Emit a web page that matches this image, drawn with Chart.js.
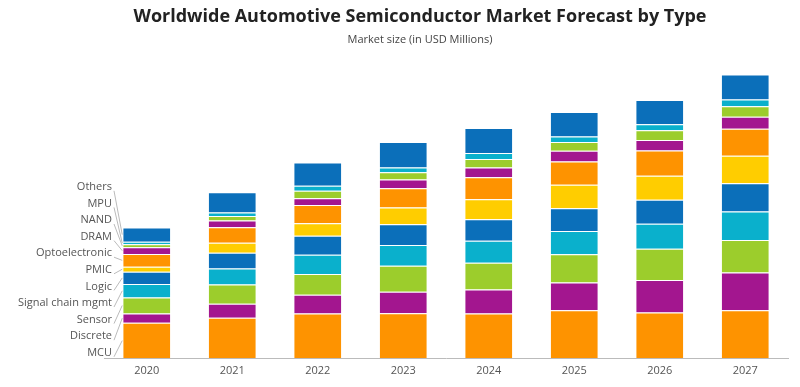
<!DOCTYPE html>
<html>
<head>
<meta charset="utf-8">
<script src="https://cdn.jsdelivr.net/npm/chart.js@4.4.1/dist/chart.umd.min.js"></script>
<style>
  body { margin: 0; background: #fff; font-family: "Open Sans", sans-serif; }
  .wrap { position: relative; width: 800px; height: 387px; }
  .title { position: absolute; left: 0; width: 840px; top: 3px; text-align: center;
           font-size: 18px; font-weight: 700; color: #222; }
  .subtitle { position: absolute; left: 0; width: 840px; top: 31px; text-align: center;
              font-size: 11px; color: #444; }
  canvas { position: absolute; left: 0; top: 0; }
</style>
</head>
<body>
<div class="wrap">
  <canvas id="chart" width="800" height="387"></canvas>
  <div class="title">Worldwide Automotive Semiconductor Market Forecast by Type</div>
  <div class="subtitle">Market size (in USD Millions)</div>
</div>
<script>
const years = ['2020', '2021', '2022', '2023', '2024', '2025', '2026', '2027'];

// values in USD millions (bottom to top)
const mcu         = [10600, 12100, 13400, 13500, 13400, 14400, 13700, 14400];
const discrete    = [2800, 4200, 5600, 6400, 7200, 8300, 9750, 11300];
const sensor      = [4800, 5800, 6200, 7800, 8000, 8400, 9300, 9700];
const signalChain = [4000, 4800, 5800, 6200, 6600, 7000, 7500, 8500];
const logic       = [3700, 4700, 5700, 6200, 6400, 6800, 7200, 8500];
const pmic        = [1500, 3000, 3700, 5000, 6000, 7000, 7200, 8200];
const opto        = [3800, 4600, 5500, 5800, 6600, 7000, 7500, 8100];
const dram        = [2000, 2000, 2000, 2600, 2900, 3200, 3200, 3600];
const nand        = [900, 1400, 2200, 2200, 2500, 2600, 2900, 3100];
const mpu         = [750, 1000, 1500, 1400, 1800, 1700, 1800, 2000];
const others      = [4300, 6100, 7000, 7600, 7500, 7300, 7200, 7500];

const seriesNames = ['MCU', 'Discrete', 'Sensor', 'Signal chain mgmt', 'Logic', 'PMIC',
  'Optoelectronic', 'DRAM', 'NAND', 'MPU', 'Others'];
const seriesData = [mcu, discrete, sensor, signalChain, logic, pmic, opto, dram, nand, mpu, others];
const colors = ['#fe9300', '#a3168f', '#9ccd2c', '#0ab0cc', '#0b6fba', '#ffcd00',
  '#fe9300', '#a3168f', '#9ccd2c', '#0ab0cc', '#0b6fba'];

// series names on the left, with leader lines to the first bar
const sideLabels = {
  id: 'sideLabels',
  afterDatasetsDraw(chart) {
    const ctx = chart.ctx;
    const area = chart.chartArea;
    const step = 16.6;
    ctx.save();
    ctx.font = '11px "Open Sans"';
    ctx.textAlign = 'right';
    ctx.textBaseline = 'middle';
    seriesNames.forEach((name, i) => {
      const y = area.bottom - 5.5 - i * step;
      const x = area.left + 8;
      ctx.fillStyle = '#555';
      ctx.fillText(name, x, y);
      const bar = chart.getDatasetMeta(i).data[0];
      const segMid = (bar.y + bar.base) / 2;
      const barLeft = bar.x - bar.width / 2;
      ctx.strokeStyle = '#bbb';
      ctx.lineWidth = 1;
      ctx.beginPath();
      ctx.moveTo(x + 2, y + 4);
      ctx.lineTo(barLeft - 1, segMid);
      ctx.stroke();
    });
    ctx.restore();
  }
};

new Chart(document.getElementById('chart'), {
  type: 'bar',
  data: {
    labels: years,
    datasets: seriesNames.map((name, i) => ({
      label: name,
      data: seriesData[i],
      backgroundColor: colors[i],
      borderColor: 'rgba(255,255,255,0.7)',
      borderWidth: { top: 1, bottom: 0, left: 0, right: 0 },
      borderSkipped: false,
      categoryPercentage: 1,
      barPercentage: 0.55
    }))
  },
  options: {
    responsive: false,
    animation: false,
    layout: { padding: { left: 104, right: 12, top: 57.5, bottom: 3.5 } },
    plugins: {
      legend: { display: false },
      title: { display: false },
      tooltip: { enabled: false }
    },
    scales: {
      x: {
        stacked: true,
        grid: { display: false, drawTicks: false },
        border: { display: true, color: '#bbb' },
        ticks: { color: '#555', font: { family: 'Open Sans', size: 11 }, padding: 6 }
      },
      y: {
        stacked: true,
        display: false,
        min: 0,
        max: 90000
      }
    }
  },
  plugins: [sideLabels]
});
</script>
</body>
</html>
